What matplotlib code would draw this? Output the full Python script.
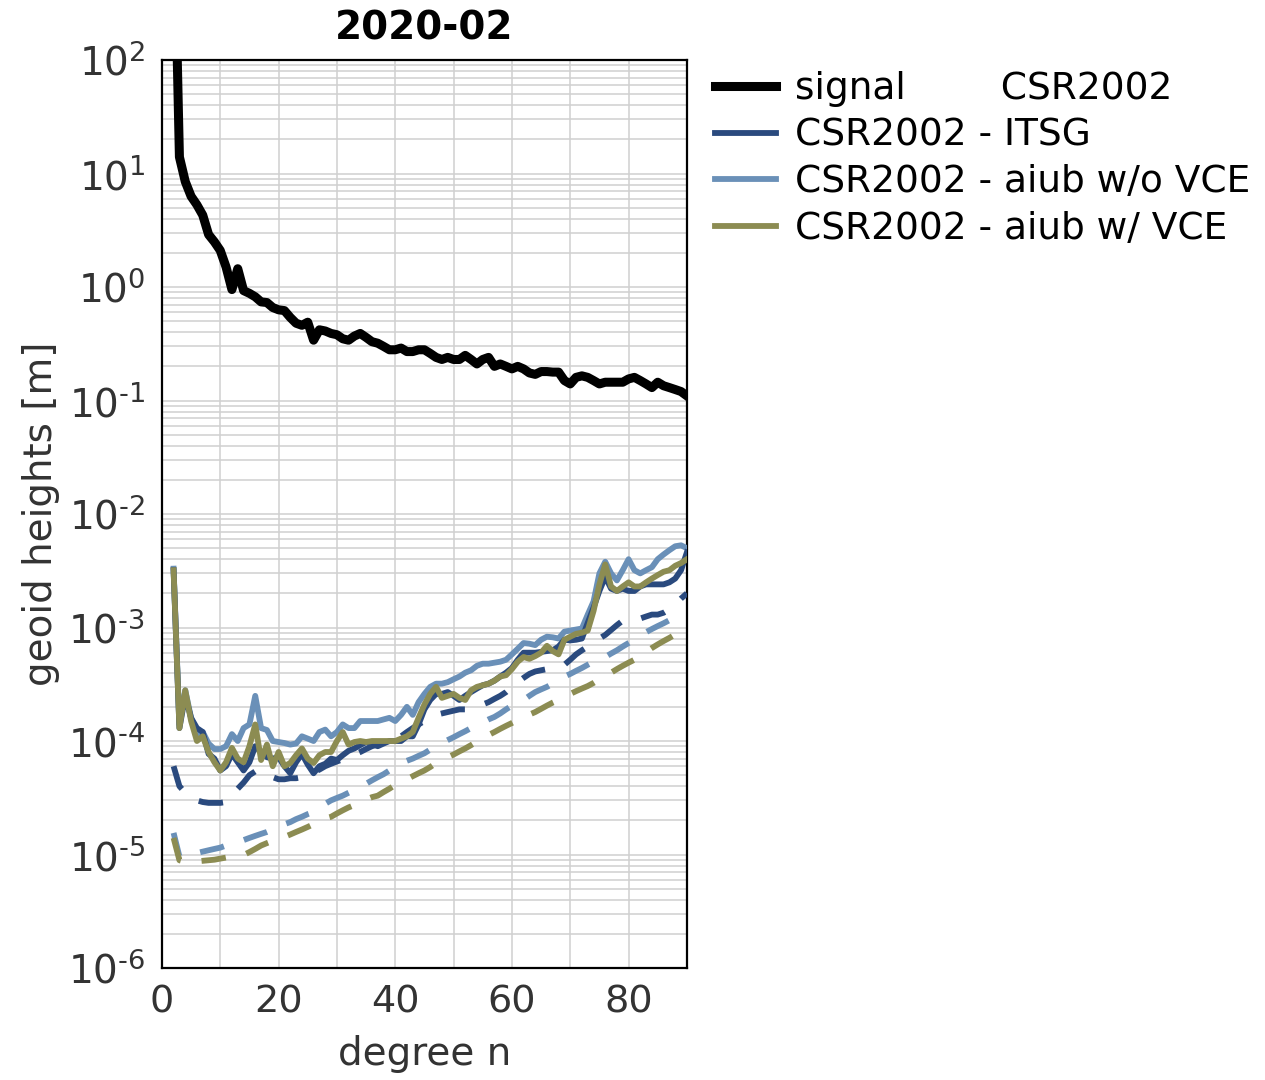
import numpy as np
import matplotlib
matplotlib.use('Agg')
import matplotlib.pyplot as plt
from matplotlib.ticker import FixedLocator, FuncFormatter, NullFormatter

plt.rcParams['axes.unicode_minus'] = False
plt.rcParams['mathtext.default'] = 'regular'

degree = np.arange(2, 91)

# signal CSR2002 [m]
signal = [3000, 14, 8.5, 6.3, 5.3, 4.3, 2.9, 2.5, 2.1, 1.5,
          0.95, 1.45, 0.93, 0.88, 0.82, 0.74, 0.73, 0.66, 0.63, 0.62,
          0.54, 0.48, 0.46, 0.49, 0.34, 0.42, 0.41, 0.39, 0.38, 0.35,
          0.34, 0.37, 0.39, 0.36, 0.33, 0.32, 0.30, 0.28, 0.28, 0.29,
          0.27, 0.27, 0.28, 0.28, 0.26, 0.24, 0.23, 0.24, 0.23, 0.23,
          0.25, 0.23, 0.21, 0.23, 0.24, 0.20, 0.21, 0.20, 0.19, 0.20,
          0.19, 0.175, 0.17, 0.18, 0.18, 0.178, 0.178, 0.15, 0.14, 0.16,
          0.165, 0.16, 0.15, 0.14, 0.145, 0.145, 0.145, 0.145, 0.155, 0.16,
          0.15, 0.14, 0.13, 0.145, 0.135, 0.13, 0.125, 0.12, 0.11]

# CSR2002 - ITSG
itsg = [3.2e-3, 1.3e-4, 2.5e-4, 1.6e-4, 1.3e-4, 1.2e-4, 7.7e-5, 7e-5, 5.5e-5, 6e-5,
        7.7e-5, 6.5e-5, 5.5e-5, 6.5e-5, 9e-5, 8e-5, 7.2e-5, 7e-5, 7.2e-5, 6e-5,
        5.2e-5, 6.5e-5, 7.7e-5, 6.2e-5, 5.2e-5, 6e-5, 6.3e-5, 7e-5, 6.8e-5, 7.5e-5,
        8.2e-5, 8.6e-5, 9.2e-5, 9.8e-5, 9.5e-5, 9.0e-5, 9.5e-5, 1.0e-4, 1.0e-4, 1.0e-4,
        1.1e-4, 1.1e-4, 1.4e-4, 1.9e-4, 2.3e-4, 2.6e-4, 2.6e-4, 2.7e-4, 2.5e-4, 2.3e-4,
        2.5e-4, 2.7e-4, 2.9e-4, 3.1e-4, 3.2e-4, 3.4e-4, 3.7e-4, 4.0e-4, 4.4e-4, 5.2e-4,
        6.0e-4, 6.0e-4, 6.0e-4, 6.1e-4, 6.2e-4, 6.3e-4, 6.8e-4, 7.8e-4, 7.7e-4, 7.8e-4,
        8.0e-4, 1.1e-3, 1.5e-3, 2.1e-3, 2.8e-3, 2.2e-3, 2.1e-3, 2.2e-3, 2.1e-3, 2.1e-3,
        2.3e-3, 2.4e-3, 2.4e-3, 2.4e-3, 2.4e-3, 2.5e-3, 2.7e-3, 3.2e-3, 4.6e-3]
itsg_formal = [6.0e-5, 4.0e-5, 3.5e-5, 3.2e-5, 3.0e-5, 2.9e-5, 2.85e-5, 2.85e-5, 2.85e-5, 2.9e-5,
               3.2e-5, 3.8e-5, 4.3e-5, 5.0e-5, 5.4e-5, 5.5e-5, 5.2e-5, 4.8e-5, 4.6e-5, 4.6e-5,
               4.7e-5, 4.7e-5, 4.8e-5, 5.0e-5, 5.3e-5, 5.6e-5, 6.0e-5, 6.3e-5, 6.6e-5, 6.9e-5,
               7.2e-5, 7.6e-5, 8.0e-5, 8.5e-5, 9.0e-5, 9.3e-5, 9.6e-5, 1.0e-4, 1.05e-4, 1.1e-4,
               1.2e-4, 1.3e-4, 1.4e-4, 1.5e-4, 1.6e-4, 1.7e-4, 1.75e-4, 1.8e-4, 1.85e-4, 1.9e-4,
               1.9e-4, 1.95e-4, 2.0e-4, 2.1e-4, 2.2e-4, 2.35e-4, 2.5e-4, 2.7e-4, 3.0e-4, 3.3e-4,
               3.6e-4, 3.9e-4, 4.1e-4, 4.2e-4, 4.3e-4, 4.4e-4, 4.5e-4, 4.7e-4, 5.2e-4, 5.8e-4,
               6.3e-4, 6.8e-4, 7.3e-4, 8.0e-4, 8.6e-4, 9.5e-4, 1.05e-3, 1.15e-3, 1.17e-3, 1.18e-3,
               1.2e-3, 1.25e-3, 1.3e-3, 1.3e-3, 1.35e-3, 1.45e-3, 1.6e-3, 1.8e-3, 2.0e-3]

# CSR2002 - aiub w/o VCE
novce = [3.3e-3, 1.4e-4, 2.8e-4, 1.6e-4, 1.1e-4, 1.2e-4, 9.5e-5, 8.5e-5, 8.5e-5, 9e-5,
         1.15e-4, 1.0e-4, 1.3e-4, 1.4e-4, 2.5e-4, 1.3e-4, 1.25e-4, 1.0e-4, 9.8e-5, 9.6e-5,
         9.3e-5, 9.5e-5, 1.1e-4, 1.05e-4, 1.0e-4, 1.2e-4, 1.26e-4, 1.1e-4, 1.2e-4, 1.4e-4,
         1.3e-4, 1.3e-4, 1.5e-4, 1.5e-4, 1.5e-4, 1.5e-4, 1.55e-4, 1.6e-4, 1.5e-4, 1.7e-4,
         2.0e-4, 1.7e-4, 2.2e-4, 2.6e-4, 3.0e-4, 3.2e-4, 3.2e-4, 3.3e-4, 3.5e-4, 3.7e-4,
         4.0e-4, 4.2e-4, 4.6e-4, 4.8e-4, 4.8e-4, 4.9e-4, 5.0e-4, 5.2e-4, 5.8e-4, 6.5e-4,
         7.3e-4, 7.2e-4, 7.0e-4, 7.8e-4, 8.3e-4, 8.2e-4, 8.0e-4, 9.2e-4, 9.4e-4, 9.6e-4,
         9.8e-4, 1.3e-3, 1.7e-3, 3.0e-3, 3.8e-3, 3.0e-3, 2.6e-3, 3.2e-3, 4.0e-3, 3.2e-3,
         3.0e-3, 3.2e-3, 3.4e-3, 4.0e-3, 4.4e-3, 4.8e-3, 5.2e-3, 5.3e-3, 5.0e-3]
novce_formal = [1.55e-5, 9.6e-6, 9.8e-6, 1.0e-5, 1.03e-5, 1.06e-5, 1.09e-5, 1.12e-5, 1.15e-5, 1.2e-5,
                1.25e-5, 1.3e-5, 1.34e-5, 1.4e-5, 1.46e-5, 1.52e-5, 1.58e-5, 1.66e-5, 1.75e-5, 1.85e-5,
                1.93e-5, 2.05e-5, 2.15e-5, 2.27e-5, 2.37e-5, 2.55e-5, 2.8e-5, 3.0e-5, 3.15e-5, 3.3e-5,
                3.5e-5, 3.7e-5, 3.9e-5, 4.2e-5, 4.5e-5, 4.8e-5, 5.1e-5, 5.5e-5, 5.9e-5, 6.4e-5,
                6.7e-5, 7.0e-5, 7.4e-5, 7.8e-5, 8.4e-5, 9.0e-5, 9.6e-5, 1.02e-4, 1.08e-4, 1.15e-4,
                1.22e-4, 1.3e-4, 1.38e-4, 1.46e-4, 1.55e-4, 1.63e-4, 1.75e-4, 1.9e-4, 2.05e-4, 2.16e-4,
                2.3e-4, 2.5e-4, 2.7e-4, 2.85e-4, 3.0e-4, 3.2e-4, 3.45e-4, 3.7e-4, 3.9e-4, 4.15e-4,
                4.4e-4, 4.7e-4, 5.0e-4, 5.3e-4, 5.5e-4, 5.9e-4, 6.3e-4, 6.8e-4, 7.3e-4, 7.8e-4,
                8.4e-4, 9.1e-4, 9.7e-4, 1.03e-3, 1.09e-3, 1.16e-3, 1.24e-3, 1.32e-3, 1.4e-3]

# CSR2002 - aiub w/ VCE
vce = [3.2e-3, 1.3e-4, 2.8e-4, 1.5e-4, 1.0e-4, 1.1e-4, 8e-5, 6.5e-5, 5.5e-5, 6.5e-5,
       8.7e-5, 7e-5, 6.5e-5, 9e-5, 1.4e-4, 6.8e-5, 9.3e-5, 6.0e-5, 8e-5, 6e-5,
       6.4e-5, 7.5e-5, 8.6e-5, 7e-5, 6.4e-5, 7.5e-5, 8e-5, 8e-5, 1.0e-4, 1.2e-4,
       9.3e-5, 9.8e-5, 1.0e-4, 9.8e-5, 1.0e-4, 1.0e-4, 1.0e-4, 1.0e-4, 1.0e-4, 1.05e-4,
       1.1e-4, 1.2e-4, 1.6e-4, 2.1e-4, 2.6e-4, 3.0e-4, 2.4e-4, 2.5e-4, 2.6e-4, 2.4e-4,
       2.3e-4, 2.8e-4, 3.0e-4, 3.1e-4, 3.2e-4, 3.4e-4, 3.7e-4, 3.8e-4, 4.3e-4, 5.0e-4,
       5.5e-4, 5.3e-4, 5.6e-4, 6.0e-4, 6.9e-4, 6.2e-4, 5.8e-4, 7.8e-4, 8.3e-4, 8.8e-4,
       9.0e-4, 9.4e-4, 1.4e-3, 2.4e-3, 3.6e-3, 2.3e-3, 2.1e-3, 2.3e-3, 2.5e-3, 2.3e-3,
       2.3e-3, 2.5e-3, 2.7e-3, 2.9e-3, 3.1e-3, 3.2e-3, 3.5e-3, 3.7e-3, 4.0e-3]
vce_formal = [1.4e-5, 8.9e-6, 8.6e-6, 8.6e-6, 8.7e-6, 8.8e-6, 8.9e-6, 9.0e-6, 9.2e-6, 9.4e-6,
              9.6e-6, 9.8e-6, 9.9e-6, 1.05e-5, 1.12e-5, 1.2e-5, 1.26e-5, 1.32e-5, 1.38e-5, 1.43e-5,
              1.5e-5, 1.58e-5, 1.66e-5, 1.75e-5, 1.85e-5, 1.97e-5, 2.08e-5, 2.15e-5, 2.3e-5, 2.45e-5,
              2.6e-5, 2.73e-5, 2.9e-5, 3.05e-5, 3.2e-5, 3.3e-5, 3.55e-5, 3.8e-5, 4.1e-5, 4.35e-5,
              4.6e-5, 4.9e-5, 5.2e-5, 5.5e-5, 5.9e-5, 6.4e-5, 6.8e-5, 7.2e-5, 7.6e-5, 8.1e-5,
              8.6e-5, 9.2e-5, 9.9e-5, 1.06e-4, 1.13e-4, 1.2e-4, 1.28e-4, 1.36e-4, 1.44e-4, 1.53e-4,
              1.62e-4, 1.71e-4, 1.8e-4, 1.92e-4, 2.05e-4, 2.18e-4, 2.3e-4, 2.45e-4, 2.6e-4, 2.75e-4,
              2.9e-4, 3.05e-4, 3.25e-4, 3.5e-4, 3.7e-4, 4.0e-4, 4.3e-4, 4.6e-4, 4.9e-4, 5.2e-4,
              5.6e-4, 6.1e-4, 6.6e-4, 7.1e-4, 7.6e-4, 8.1e-4, 8.7e-4, 9.3e-4, 1.0e-3]

c_dark = '#2a4a7e'
c_light = '#6a90b8'
c_olive = '#8c8c52'
txtc = '#333333'
lw = 4.2
dash = [4.2, 3.6]

fig = plt.figure(figsize=(12.65, 10.8), dpi=100)
ax = fig.add_axes([0.128, 0.1037, 0.415, 0.8407])

ax.plot(degree, signal, color='k', lw=6.5, label='signal        CSR2002', zorder=5)
ax.plot(degree, itsg, color=c_dark, lw=lw, label='CSR2002 - ITSG', zorder=4)
ax.plot(degree, novce, color=c_light, lw=lw, label='CSR2002 - aiub w/o VCE', zorder=3)
ax.plot(degree, vce, color=c_olive, lw=lw, label='CSR2002 - aiub w/ VCE', zorder=4)
ax.plot(degree, itsg_formal, color=c_dark, lw=lw, dashes=dash, zorder=3)
ax.plot(degree, novce_formal, color=c_light, lw=lw, dashes=dash, zorder=3)
ax.plot(degree, vce_formal, color=c_olive, lw=lw, dashes=dash, zorder=3)

ax.set_yscale('log')
ax.set_xlim(0, 90)
ax.set_ylim(1e-6, 1e2)
ax.xaxis.set_major_locator(FixedLocator([0, 20, 40, 60, 80]))
ax.xaxis.set_minor_locator(FixedLocator([10, 30, 50, 70, 90]))
ax.yaxis.set_major_locator(FixedLocator([10.0**k for k in range(-6, 3)]))
ax.yaxis.set_minor_locator(FixedLocator([m * 10.0**k for k in range(-6, 2) for m in range(2, 10)]))
ax.yaxis.set_major_formatter(FuncFormatter(
    lambda v, p: '$10^{%s}$' % str(int(round(np.log10(v)))).replace('-', '\u2010')))
ax.yaxis.set_minor_formatter(NullFormatter())
ax.grid(True, which='both', color='#d0d0d0', lw=1.1)
ax.set_axisbelow(True)
ax.tick_params(which='both', length=0, labelsize=27.5, labelcolor=txtc)
ax.tick_params(axis='y', pad=12, labelsize=28)
ax.tick_params(axis='x', pad=12)
for s in ax.spines.values():
    s.set_linewidth(1.6)

ax.set_xlabel('degree n', fontsize=28, color=txtc, labelpad=10)
ax.set_ylabel('geoid heights [m]', fontsize=28, color=txtc, labelpad=6)
ax.set_title('2020-02', fontsize=28, fontweight='bold', pad=15)

fig.legend(loc='upper left', bbox_to_anchor=(0.553, 0.948), frameon=False,
           fontsize=27, handlelength=1.65, handletextpad=0.5, labelspacing=0.28,
           borderaxespad=0)

fig.savefig('out.png', dpi=100)
